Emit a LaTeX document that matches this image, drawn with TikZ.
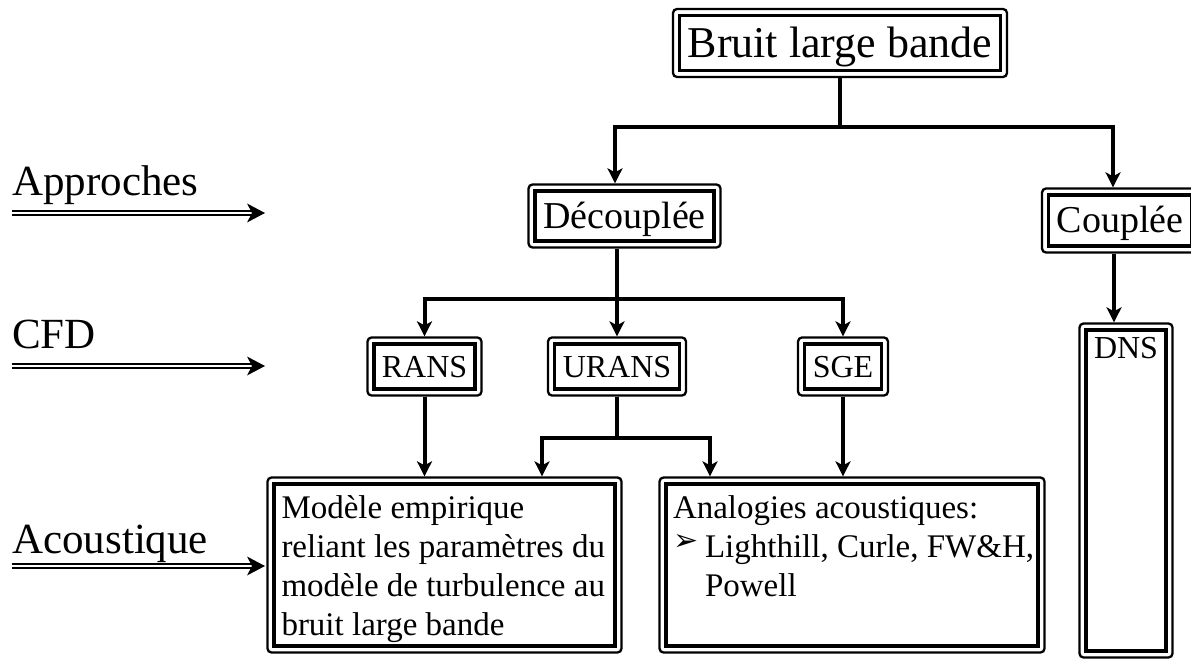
\documentclass[tikz,border=0pt]{standalone}
\usepackage{fontspec}
\setmainfont{Liberation Serif}
\newfontfamily\dejavu{DejaVu Sans}
\usetikzlibrary{arrows.meta}
\tikzset{dhead/.pic={\fill (0,0) -- (-18,-9.5) -- (-13,0) -- (-18,9.5) -- cycle;}}
\begin{document}
\begin{tikzpicture}[x=1pt,y=-1pt,
  box/.style={draw, line width=2.3pt, rounded corners=4pt, inner sep=0pt},
  innerbox/.style={draw, line width=3.2pt},
  conn/.style={line width=4pt, line join=miter},
  arr/.style={conn, -{Stealth[length=15pt,width=15pt,inset=4pt]}},
  dbl/.style={line width=2.2pt, double distance=2.4pt},
  lbl/.style={anchor=base west, inner sep=0pt, font=\fontsize{43}{43}\selectfont},
  big/.style={font=\fontsize{44}{44}\selectfont, text height=29pt, text depth=0pt},
  mid/.style={font=\fontsize{38}{38}\selectfont, text height=25pt, text depth=0pt},
  small/.style={font=\fontsize{32}{32}\selectfont, text height=21pt, text depth=0pt},
  body/.style={font=\fontsize{33}{39}\selectfont},
  dnsfont/.style={font=\fontsize{32}{32}\selectfont},
]
\useasboundingbox (0,0) rectangle (1191,660);

% boxes
\node[box, big, minimum width=334pt, minimum height=68pt] (bruit) at (840,43) {Bruit large bande};
\node[box, mid, minimum width=192pt, minimum height=63pt] (dec) at (624.5,216) {Découplée};
\node[box, mid, minimum width=156pt, minimum height=64pt] (coup) at (1120,220.5) {Couplée};
\node[box, small, minimum width=114pt, minimum height=58pt] (rans) at (424.5,366.5) {RANS};
\node[box, small, minimum width=138pt, minimum height=58pt] (urans) at (617,366.5) {URANS};
\node[box, small, minimum width=90pt, minimum height=58pt] (sge) at (843,366.5) {SGE};
\node[box, body, minimum width=354pt, minimum height=175pt] (modele) at (444.5,565)
  {\parbox[c][160pt][t]{326pt}{\raggedright\rule{0pt}{33pt}Modèle empirique\\reliant les paramètres du\\modèle de turbulence au\\bruit large bande}};
\node[box, body, minimum width=385pt, minimum height=175pt] (analog) at (852,565)
  {\parbox[c][160pt][t]{372pt}{\raggedright\leftskip=7pt\rule{0pt}{33pt}Analogies acoustiques:\\\makebox[32pt][l]{\raisebox{7pt}{\dejavu\fontsize{30}{30}\selectfont ➢}}Lighthill, Curle, FW\&H,\\\hspace*{32pt}Powell}};
\node[box, dnsfont, minimum width=93pt, minimum height=334pt] (dns) at (1126,490.5)
  {\parbox[c][320pt][t]{80pt}{\centering\rule{0pt}{27.5pt}DNS}};

% inner borders
\foreach \n in {bruit,dec,coup,rans,urans,sge,modele,analog,dns}
  \draw[innerbox] ([shift={(7.6,7.6)}]\n.north west) rectangle ([shift={(-7.6,-7.6)}]\n.south east);

% connectors
\path (bruit.south) ++(0,49) coordinate (j1);
\draw[conn] (bruit.south) -- (j1);
\draw[arr] (j1) -| ([xshift=-9.5]dec.north);
\draw[arr] (j1) -| ([xshift=-7]coup.north);

\path ([xshift=-8]dec.south) ++(0,50) coordinate (j2);
\draw[conn] ([xshift=-8]dec.south) -- (j2);
\draw[arr] (j2) -| (rans.north);
\draw[arr] (j2) -- (j2 -| urans.north) -- (urans.north);
\draw[arr] (j2) -| (sge.north);

\path (urans.south) ++(0,41) coordinate (j3);
\draw[conn] (urans.south) -- (j3);
\draw[arr] (j3) -| ([xshift=97.5]modele.north);
\draw[arr] (j3) -| ([xshift=-142]analog.north);

\draw[arr] (rans.south) -- (rans.south |- modele.north);
\draw[arr] (sge.south) -- (sge.south |- analog.north);
\draw[arr] ([xshift=-6]coup.south) -- ([xshift=-6]coup.south |- dns.north);

% left labels
\node[lbl] (lapp) at (12,196) {Approches};
\node[lbl] (lcfd) at (12,348) {CFD};
\node[lbl] (lac) at (12,553) {Acoustique};
\coordinate (a1s) at (12,213); \coordinate (a1e) at (265,213);
\coordinate (a2s) at (12,366); \coordinate (a2e) at (265,366);
\coordinate (a3s) at (12,566); \coordinate (a3e) at (265,566);
\foreach \s/\e in {a1s/a1e,a2s/a2e,a3s/a3e}{
  \draw[dbl] (\s) -- ([xshift=-10]\e);
  \pic at (\e) {dhead};
}
\end{tikzpicture}
\end{document}
